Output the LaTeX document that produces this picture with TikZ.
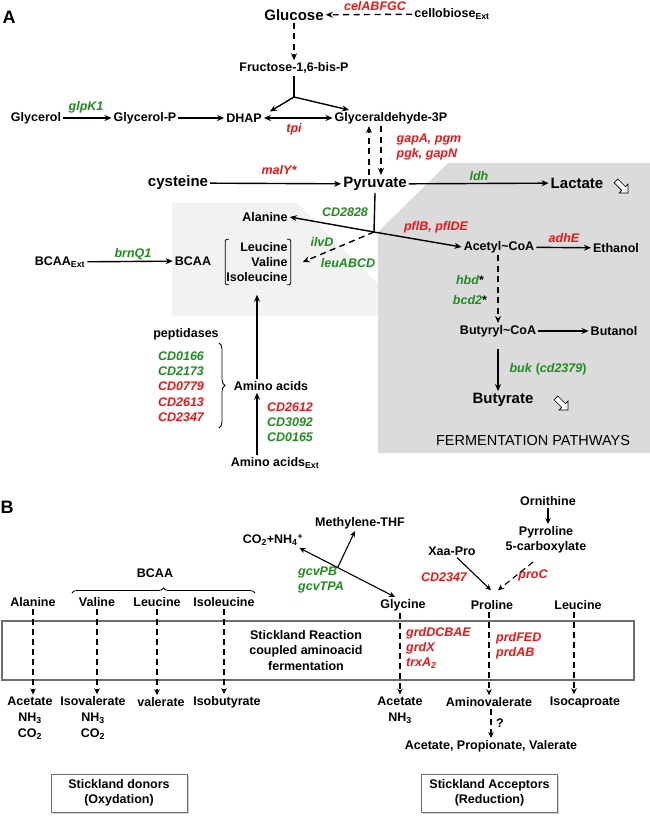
\documentclass[tikz,border=0pt]{standalone}
\usepackage{fontspec}
\setmainfont{Liberation Sans}
\usepackage{xcolor}
\usetikzlibrary{arrows.meta,calc,shapes.arrows,shadows,decorations.pathreplacing}
\definecolor{genered}{HTML}{F01414}
\definecolor{genegreen}{HTML}{1E8C1E}
\definecolor{palegray}{HTML}{F2F2F2}
\definecolor{fermgray}{HTML}{DBDBDB}
\definecolor{boxline}{HTML}{6E6E6E}
\tikzset{
  met/.style={font=\bfseries\fontsize{12.5}{15}\selectfont, inner sep=2pt},
  big/.style={font=\bfseries\fontsize{15}{17}\selectfont, inner sep=2pt},
  gred/.style={text=genered, font=\bfseries\itshape\fontsize{12.5}{15}\selectfont, inner sep=1pt},
  ggreen/.style={text=genegreen, font=\bfseries\itshape\fontsize{12.5}{15}\selectfont, inner sep=1pt},
  arr/.style={-{Stealth[length=7pt,width=6pt]}, line width=1.4pt},
  arrs/.style={{Stealth[length=7pt,width=6pt]}-{Stealth[length=7pt,width=6pt]}, line width=1.4pt},
  darr/.style={arr, dash pattern=on 6pt off 4.5pt},
  barr/.style={-{Stealth[length=6pt,width=5.5pt]}, line width=1.1pt},
  barrs/.style={{Stealth[length=6pt,width=5.5pt]}-{Stealth[length=6pt,width=5.5pt]}, line width=1.1pt},
  bdarr/.style={barr, dash pattern=on 6pt off 4pt},
  brk/.style={line width=0.8pt, rounded corners=2pt},
  export/.style={single arrow, draw, line width=0.7pt, fill=white, minimum height=17pt,
    single arrow head extend=3.5pt, inner sep=2.3pt, rotate=-45},
  panel/.style={font=\bfseries\fontsize{18}{20}\selectfont, inner sep=0pt},
  legendbox/.style={draw=boxline, line width=1pt, fill=white, align=center, minimum width=136pt,
    minimum height=38pt, font=\bfseries\fontsize{12.5}{15}\selectfont,
    drop shadow={opacity=0.35, shadow xshift=1.5pt, shadow yshift=-1.5pt}},
}

\begin{document}
\begin{tikzpicture}[x=1pt,y=-1pt]
  \useasboundingbox (0,0) rectangle (650,819);
  % shaded areas
  \fill[palegray] (172,203) -- (297,203) -- (378,284) -- (378,316) -- (172,316) -- cycle;
  \fill[fermgray] (378,453) -- (378,232) -- (448,163) -- (650,163) -- (650,453) -- cycle;

  % ---------- panel A ----------
  \node[panel] (pA) at (9,17) {A};
  \node[big] (glc) at (294,15) {Glucose};
  \node[met] (cellob) at (452,14) {cellobiose\textsubscript{Ext}};
  \node[gred] (celg) at (375,6) {celABFGC};
  \node[met] (f16bp) at (294,68) {Fructose-1,6-bis-P};
  \coordinate (fsplit) at (294,97);
  \node[met] (glyc) at (36,118) {Glycerol};
  \node[met] (glycp) at (145,118) {Glycerol-P};
  \node[met] (dhap) at (244,118) {DHAP};
  \node[met] (g3p) at (391,118) {Glyceraldehyde-3P};
  \node[ggreen] (glpk) at (86,107) {glpK1};
  \node[gred] (tpi) at (294,129) {tpi};

  \draw[darr] (cellob) -- (glc);
  \draw[darr] (glc.south) -- (glc.south |- f16bp.north);
  \draw[line width=1.4pt] (f16bp.south) -- (fsplit);
  \draw[arr] (fsplit) -- ([xshift=6pt]dhap.north east);
  \draw[arr] (fsplit) -- ([xshift=-42pt]g3p.north);
  \draw[arr] (glyc) -- (glycp);
  \draw[arr] (glycp) -- (dhap);
  \draw[arrs] (dhap) -- (g3p);

  \node[big] (cys) at (178,183) {cysteine};
  \node[big] (pyr) at (375,184) {Pyruvate};
  \node[big] (lac) at (577,183) {Lactate};
  \node[export] (lacexp) at (621,186) {};
  \node[gred] (maly) at (279,170) {malY*};
  \node[ggreen] (ldh) at (479,176) {ldh};
  \node[gred, align=left] (gap) at (429,147) {gapA, pgm\\pgk, gapN};

  \draw[darr] ([xshift=-6pt]pyr.north) -- ([xshift=-6pt]pyr.north |- g3p.south);
  \draw[darr] ([xshift=6pt]pyr.north |- g3p.south) -- ([xshift=6pt]pyr.north);
  \draw[arr] (cys) -- (pyr);
  \draw[arr] (pyr) -- (lac);

  \coordinate (pyrjn) at (374,232);
  \node[met] (ala) at (265,217) {Alanine};
  \node[met] (acoa) at (499,247) {Acetyl\textasciitilde CoA};
  \node[ggreen] (cd2828) at (345,212) {CD2828};
  \node[gred] (pfl) at (436,227) {pflB, pflDE};
  \node[met] (etoh) at (616,248) {Ethanol};
  \node[gred] (adhe) at (564,238) {adhE};
  \draw[line width=1.4pt] (pyr.south) -- (pyrjn);
  \draw[arr] (pyrjn) -- (ala.east);
  \draw[arr] (pyrjn) -- (acoa.west);
  \draw[arr] (acoa) -- (etoh);

  \node[met, align=right] (bcaaset) at (257,262) {Leucine\\Valine\\Isoleucine};
  \draw[brk] ($(bcaaset.north west)+(5,-1)$) -- ++(-4,0) -- ($(bcaaset.south west)+(1,1)$) -- ++(4,0);
  \draw[brk] ($(bcaaset.north east)+(-3,-1)$) -- ++(4,0) -- ($(bcaaset.south east)+(1,1)$) -- ++(-4,0);
  \node[met] (bcaa) at (193,261) {BCAA};
  \node[met] (bcaaext) at (60,262) {BCAA\textsubscript{Ext}};
  \node[ggreen] (brnq) at (133,254) {brnQ1};
  \node[ggreen] (ilvd) at (322,242) {ilvD};
  \node[ggreen] (leuabcd) at (348,263) {leuABCD};
  \draw[arr] (bcaaext) -- (bcaa);
  \draw[darr] (pyrjn) -- ($(bcaaset.east)+(13,0)$);

  % fermentation
  \node[ggreen] (hbd) at (470,280) {hbd\textup{\textcolor{black}{*}}};
  \node[ggreen] (bcd) at (470,300) {bcd2\textup{\textcolor{black}{*}}};
  \node[met] (bcoa) at (498,331) {Butyryl\textasciitilde CoA};
  \node[met] (buoh) at (614,331) {Butanol};
  \node[big] (but) at (503,400) {Butyrate};
  \node[export] (butexp) at (561,403) {};
  \node[ggreen] (buk) at (548,369) {buk \textup{(}cd2379\textup{)}};
  \node[font=\fontsize{14.5}{16}\selectfont] (fermlbl) at (533,441) {FERMENTATION PATHWAYS};
  \draw[darr] ([xshift=-1pt]acoa.south) -- ([xshift=-1pt]acoa.south |- bcoa.north);
  \draw[arr] (bcoa) -- (buoh);
  \draw[arr, shorten <=10pt] (bcoa.south) -- (bcoa.south |- but.north);

  % amino acids
  \node[met] (pept) at (186,334) {peptidases};
  \node[font=\bfseries\itshape\fontsize{12.5}{15.3}\selectfont, align=center] (pepgenes) at (181,386.5)
    {\textcolor{genegreen}{CD0166}\\\textcolor{genegreen}{CD2173}\\\textcolor{genered}{CD0779}\\\textcolor{genered}{CD2613}\\\textcolor{genered}{CD2347}};
  \draw[decorate, decoration={brace, amplitude=6pt}, line width=0.8pt] (219,343) -- (219,428);
  \node[met] (aa) at (271,386) {Amino acids};
  \node[met] (aaext) at (275,463) {Amino acids\textsubscript{Ext}};
  \node[font=\bfseries\itshape\fontsize{12.5}{15}\selectfont, align=center] (aagenes) at (290,422)
    {\textcolor{genered}{CD2612}\\\textcolor{genegreen}{CD3092}\\\textcolor{genegreen}{CD0165}};
  \draw[arr] (aa.north -| bcaaset.south) -- ($(bcaaset.south)+(0,11)$);
  \draw[arr] (aaext.north -| bcaaset.south) -- (aa.south -| bcaaset.south);

  % ---------- panel B ----------
  \node[panel] (pB) at (7,507) {B};
  \node[met] (co2) at (273,540) {CO\textsubscript{2}+NH\textsubscript{4}\textsuperscript{+}};
  \node[met] (mthf) at (360,523) {Methylene-THF};
  \node[met] (gly) at (403,605) {Glycine};
  \node[ggreen, align=left] (gcv) at (321,579.5) {gcvPB\\gcvTPA};
  \coordinate (gcvbr) at ($([xshift=-6pt]co2.south east)!0.4!([xshift=-8pt]gly.north)$);
  \draw[barrs] ([xshift=-6pt]co2.south east) -- ([xshift=-8pt]gly.north);
  \draw[barr] (gcvbr) -- ([xshift=-5pt]mthf.south);

  \node[met] (xpro) at (452,551) {Xaa-Pro};
  \node[gred] (cd2347b) at (444,577) {CD2347};
  \node[met] (pro) at (492,605) {Proline};
  \node[met] (orn) at (548,501) {Ornithine};
  \node[met, align=center] (p5c) at (546,539.5) {Pyrroline\\5-carboxylate};
  \node[gred] (proc) at (533,575) {proC};
  \node[met] (leub) at (578,605) {Leucine};
  \draw[barr] ([xshift=5pt]xpro.south) -- ([xshift=-1pt,yshift=8pt]pro.north);
  \draw[barr] (orn.south) -- (orn.south |- p5c.north);
  \draw[bdarr] ([xshift=-13pt,yshift=-7pt]p5c.south) -- ([xshift=6pt,yshift=8pt]pro.north);

  \node[met] (alab) at (33,602) {Alanine};
  \node[met] (valb) at (97,602) {Valine};
  \node[met] (leuc) at (157,602) {Leucine};
  \node[met] (ileb) at (224,602) {Isoleucine};
  \node[met] (bcaab) at (155,573) {BCAA};
  \draw[decorate, decoration={brace, amplitude=5pt}, line width=0.8pt] (72,593) -- (255,593);

  \draw[boxline, line width=1.2pt] (2,621) rectangle (634,680);
  \node[met, align=center, font=\bfseries\fontsize{12.5}{15.5}\selectfont] (sktext) at (306,650.5)
    {Stickland Reaction\\coupled aminoacid\\fermentation};
  \node[gred, align=left, anchor=west] (grd) at (405,648) {grdDCBAE\\grdX\\trxA\textsubscript{2}};
  \node[gred, align=left, anchor=west] (prd) at (495,645.5) {prdFED\\prdAB};

  \node[met, align=center, font=\bfseries\fontsize{12.5}{16}\selectfont] (acet1) at (30,718) {Acetate\\NH\textsubscript{3}\\CO\textsubscript{2}};
  \node[met, align=center, font=\bfseries\fontsize{12.5}{16}\selectfont] (isoval) at (93,718) {Isovalerate\\NH\textsubscript{3}\\CO\textsubscript{2}};
  \node[met] (val) at (161,702) {valerate};
  \node[met] (isobut) at (227,702) {Isobutyrate};
  \node[met, align=center, font=\bfseries\fontsize{12.5}{16}\selectfont] (acet2) at (400,710) {Acetate\\NH\textsubscript{3}};
  \node[met] (amval) at (489,702) {Aminovalerate};
  \node[met] (isocap) at (585,702) {Isocaproate};
  \node[met] (acprva) at (491,746) {Acetate, Propionate, Valerate};
  \node[met] (qm) at (500,723) {?};

  \draw[bdarr] (alab.south) -- (alab.south |- acet1.north);
  \draw[bdarr] (valb.south) -- (valb.south |- isoval.north);
  \draw[bdarr] (leuc.south) -- (leuc.south |- val.north);
  \draw[bdarr] (ileb.south) -- (ileb.south |- isobut.north);
  \draw[bdarr] ([xshift=-3pt]gly.south) -- ([xshift=-3pt]gly.south |- acet2.north);
  \draw[bdarr] ([xshift=-3pt]pro.south) -- ([xshift=-3pt]pro.south |- amval.north);
  \draw[bdarr] ([xshift=-4pt]leub.south) -- ([xshift=-4pt]leub.south |- isocap.north);
  \draw[bdarr] ([xshift=2pt]amval.south) -- ([xshift=2pt]amval.south |- acprva.north);

  \node[legendbox] (donors) at (119,793) {Stickland donors\\(Oxydation)};
  \node[legendbox] (accept) at (489.5,793) {Stickland Acceptors\\(Reduction)};
\end{tikzpicture}
\end{document}
